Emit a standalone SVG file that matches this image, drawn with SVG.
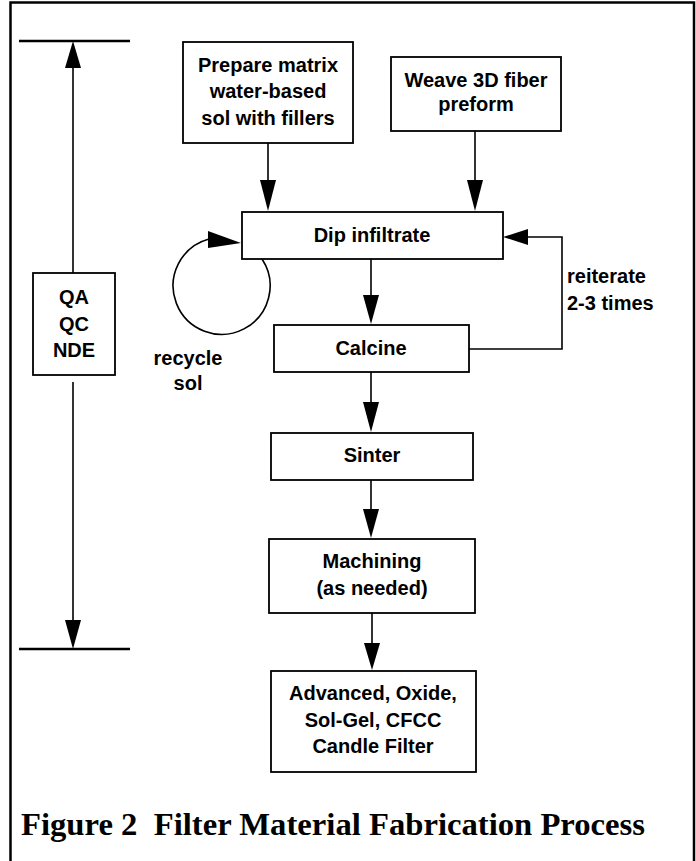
<svg xmlns="http://www.w3.org/2000/svg" width="696" height="861" viewBox="0 0 696 861">
<defs>
<style>
.box{fill:#fff;stroke:#000;stroke-width:1.8}
.t{font-family:"Liberation Sans",Arial,sans-serif;font-weight:bold;font-size:20px;fill:#000;text-anchor:middle}
.tl{font-family:"Liberation Sans",Arial,sans-serif;font-weight:bold;font-size:20px;fill:#000}
.ln{fill:none;stroke:#000;stroke-width:1.6}
.bar{fill:none;stroke:#000;stroke-width:2.5}
.ah{fill:#000;stroke:none}
</style>
</defs>
<rect width="696" height="861" fill="#fff"/>
<path class="bar" d="M10.5,861 V2.5 H694 V861"/>

<g id="connectors">
  <line class="bar" x1="19" y1="41" x2="130" y2="41"/>
  <line class="ln" x1="73" y1="66" x2="73" y2="273"/>
  <polygon class="ah" points="73,41 65,68 81,68"/>
  <line class="ln" x1="73" y1="382" x2="73" y2="622"/>
  <polygon class="ah" points="65,620 81,620 73,649"/>
  <line class="bar" x1="19" y1="649" x2="130" y2="649"/>

  <line class="ln" x1="268" y1="143" x2="268" y2="182"/>
  <polygon class="ah" points="260,180 276,180 268,211"/>
  <line class="ln" x1="475" y1="131" x2="475" y2="182"/>
  <polygon class="ah" points="467,180 483,180 475,211"/>

  <line class="ln" x1="371" y1="259" x2="371" y2="297"/>
  <polygon class="ah" points="363,295 379,295 371,324"/>
  <line class="ln" x1="371" y1="372" x2="371" y2="404"/>
  <polygon class="ah" points="363,402 379,402 371,432"/>
  <line class="ln" x1="371" y1="480" x2="371" y2="511"/>
  <polygon class="ah" points="363,509 379,509 371,538"/>
  <line class="ln" x1="372" y1="613" x2="372" y2="645"/>
  <polygon class="ah" points="364,643 380,643 372,670"/>

  <polyline class="ln" points="469,349 562,349 562,237 526,237"/>
  <polygon class="ah" points="528,229 528,245 503,237"/>

  <path class="ln" d="M262,259 A48.5,48.5 0 1 1 209,239"/>
  <polygon class="ah" points="208,231 241,243 208,248"/>
</g>

<g id="qa">
  <rect class="box" x="33" y="273" width="82" height="102"/>
  <text class="t" x="74" y="304">QA</text>
  <text class="t" x="74" y="331">QC</text>
  <text class="t" x="74" y="357">NDE</text>
</g>

<g id="prepare">
  <rect class="box" x="183" y="42" width="170" height="101"/>
  <text class="t" x="268" y="72">Prepare matrix</text>
  <text class="t" x="268" y="98">water-based</text>
  <text class="t" x="268" y="125">sol with fillers</text>
</g>

<g id="weave">
  <rect class="box" x="391" y="57" width="170" height="74"/>
  <text class="t" x="476" y="87">Weave 3D fiber</text>
  <text class="t" x="476" y="111">preform</text>
</g>

<g id="dip">
  <rect class="box" x="242" y="212" width="261" height="47"/>
  <text class="t" x="372" y="242">Dip infiltrate</text>
</g>

<g id="recycle">
  <text class="t" x="188" y="365">recycle</text>
  <text class="t" x="188" y="390">sol</text>
</g>

<g id="reiterate">
  <text class="tl" x="567" y="283">reiterate</text>
  <text class="tl" x="567" y="310">2-3 times</text>
</g>

<g id="calcine">
  <rect class="box" x="274" y="325" width="195" height="47"/>
  <text class="t" x="371" y="355">Calcine</text>
</g>

<g id="sinter">
  <rect class="box" x="271" y="433" width="202" height="47"/>
  <text class="t" x="372" y="462">Sinter</text>
</g>

<g id="machining">
  <rect class="box" x="269" y="539" width="206" height="74"/>
  <text class="t" x="372" y="568">Machining</text>
  <text class="t" x="372" y="595">(as needed)</text>
</g>

<g id="advanced">
  <rect class="box" x="271" y="671" width="205" height="101"/>
  <text class="t" x="373" y="700">Advanced, Oxide,</text>
  <text class="t" x="373" y="727">Sol-Gel, CFCC</text>
  <text class="t" x="373" y="753">Candle Filter</text>
</g>

<g id="caption">
  <text x="21" y="835" font-family="'Liberation Serif','Times New Roman',serif" font-weight="bold" font-size="31" textLength="624" lengthAdjust="spacingAndGlyphs" xml:space="preserve">Figure 2  Filter Material Fabrication Process</text>
</g>
</svg>
